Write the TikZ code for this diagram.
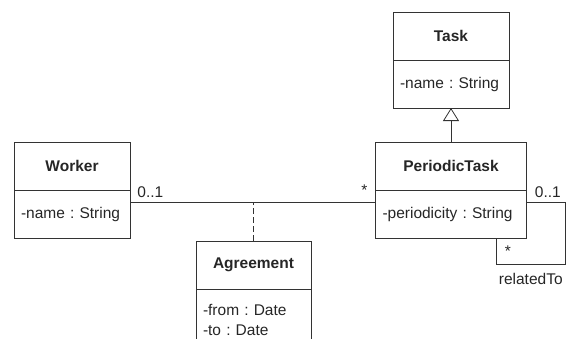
\documentclass[tikz,border=0pt]{standalone}
\usepackage{fontspec}
\setmainfont{Liberation Sans}
\usetikzlibrary{positioning,arrows.meta}
\newcommand\umlfont{\fontsize{15.5}{20}\selectfont\frenchspacing}
\tikzset{
  umlname/.style={draw=black!80,line width=0.8pt,outer sep=0pt,inner sep=0pt,minimum width=#1,minimum height=48,font=\umlfont\bfseries},
  umlattr/.style={draw=black!80,line width=0.8pt,outer sep=0pt,inner xsep=7pt,inner ysep=0pt,text width=#1,align=left,minimum height=48},
  mult/.style={inner sep=0pt}
}
\begin{document}
\begin{tikzpicture}[x=1pt,y=-1pt,font=\umlfont,text=black!85,line width=0.8pt,draw=black!80,node distance=0pt]
\useasboundingbox(0,0)rectangle(574,338);
\clip(0,0)rectangle(574,338);
\node[umlname=116](taskname)at(451,36){Task};
\node[umlattr=102,below=of taskname](taskattr){-name : String};
\node[umlname=151](ptname)at(451,166){PeriodicTask};
\node[umlattr=137,below=of ptname](ptattr){-periodicity : String};
\node[umlname=116](workername)at(72,166){Worker};
\node[umlattr=102,below=of workername](workerattr){-name : String};
\node[umlname=115](agreename)at(253.5,265){Agreement};
\node[umlattr=101,minimum height=61,below=of agreename](agreeattr){-from : Date\\-to : Date};
\draw[-{Triangle[open,length=13pt,width=16pt]}](ptname)--(taskattr);
\coordinate(wA)at([yshift=12pt]workerattr.east);
\coordinate(pA)at([yshift=12pt]ptattr.west);
\coordinate(pB)at([yshift=12pt]ptattr.east);
\draw(wA)--(pA);
\draw[dash pattern=on 6pt off 3pt](agreename.north)--(agreename.north|-wA);
\node[mult,anchor=base west]at([xshift=7pt,yshift=5pt]wA){0..1};
\node[mult,anchor=base]at([xshift=-11pt,yshift=7pt]pA){*};
\node[mult,anchor=base west]at([xshift=8pt,yshift=5pt]pB){0..1};
\draw(pB)--++(39,0)--++(0,62)--([xshift=45pt,yshift=-26pt]ptattr.south)node[pos=0.5,below=9pt,mult]{relatedTo}--([xshift=45pt]ptattr.south);
\node[mult,anchor=base]at([xshift=57pt,yshift=-18pt]ptattr.south){*};
\end{tikzpicture}
\end{document}
